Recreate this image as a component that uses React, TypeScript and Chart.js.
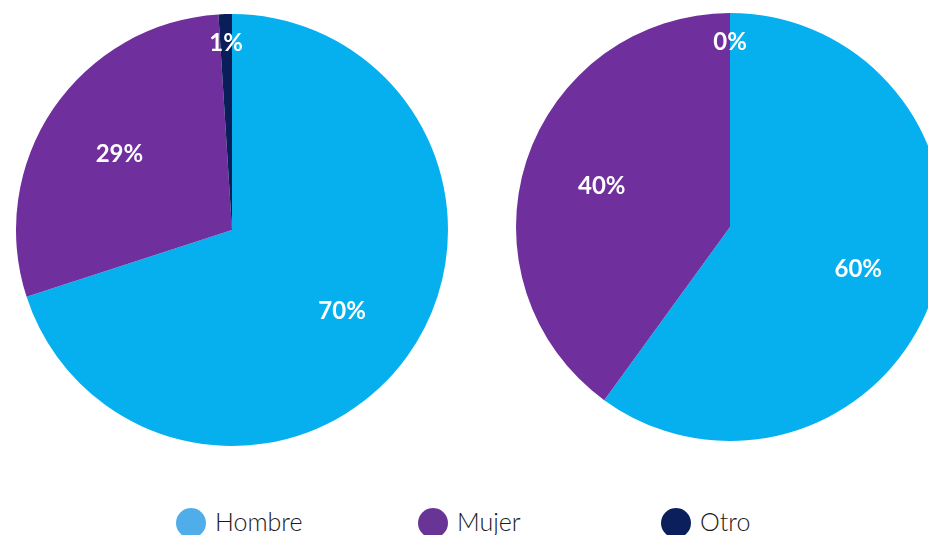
import React, { useEffect, useRef } from "react";
import { Chart, registerables } from "chart.js";

Chart.register(...registerables);

const categories = ["Hombre", "Mujer", "Otro"];
const leftValues = [70, 29, 1];
const rightValues = [60, 40, 0];
const sliceColors = ["#06B0EF", "#6F2F9C", "#0A1F5A"];
const legendColors = ["#4FAEEA", "#683597", "#0B1F5C"];

const labelPlugin = {
  id: "pctLabels",
  afterDatasetsDraw(chart: any) {
    const { ctx } = chart;
    const meta = chart.getDatasetMeta(0);
    const values: number[] = chart.data.datasets[0].data;
    ctx.save();
    ctx.fillStyle = "#ffffff";
    ctx.font = "bold 24px Lato, 'Open Sans', sans-serif";
    ctx.textAlign = "center";
    ctx.textBaseline = "middle";
    meta.data.forEach((arc: any, i: number) => {
      const { x, y, startAngle, endAngle, outerRadius } = arc.getProps(
        ["x", "y", "startAngle", "endAngle", "outerRadius"],
        true
      );
      const mid = (startAngle + endAngle) / 2;
      const f = values[i] < 2 ? 0.87 : 0.63;
      const lx = x + Math.cos(mid) * outerRadius * f;
      const ly = y + Math.sin(mid) * outerRadius * f;
      ctx.fillText(values[i] + "%", lx, ly + 1);
    });
    ctx.restore();
  },
};

function Pie({ values, left, top, size }: { values: number[]; left: number; top: number; size: number }) {
  const ref = useRef<HTMLCanvasElement>(null);
  useEffect(() => {
    if (!ref.current) return;
    const chart = new Chart(ref.current, {
      type: "pie",
      data: {
        labels: categories,
        datasets: [
          {
            data: values,
            backgroundColor: sliceColors,
            borderWidth: 0,
          },
        ],
      },
      options: {
        responsive: false,
        animation: false,
        layout: { padding: 0 },
        plugins: { legend: { display: false }, tooltip: { enabled: false } },
      },
      plugins: [labelPlugin],
    });
    return () => chart.destroy();
  }, [values]);
  return (
    <canvas
      ref={ref}
      width={size}
      height={size}
      style={{ position: "absolute", left, top, width: size, height: size }}
    />
  );
}

const legendX = [191, 433, 676];

export default function App() {
  return (
    <div
      style={{
        position: "fixed",
        left: 0,
        top: 0,
        width: 928,
        height: 535,
        overflow: "hidden",
        background: "#ffffff",
      }}
    >
      <Pie values={leftValues} left={16} top={14} size={432} />
      <Pie values={rightValues} left={516} top={13} size={428} />
      {categories.map((c, i) => (
        <React.Fragment key={c}>
          <div
            style={{
              position: "absolute",
              left: legendX[i] - 15,
              top: 508,
              width: 30,
              height: 30,
              borderRadius: "50%",
              background: legendColors[i],
            }}
          />
          <div
            style={{
              position: "absolute",
              left: legendX[i] + 24,
              top: 505,
              fontFamily: "Lato, 'Open Sans', sans-serif",
              fontWeight: 300,
              fontSize: 25,
              lineHeight: "32px",
              color: "#1a1a1a",
              whiteSpace: "nowrap",
            }}
          >
            {c}
          </div>
        </React.Fragment>
      ))}
    </div>
  );
}
